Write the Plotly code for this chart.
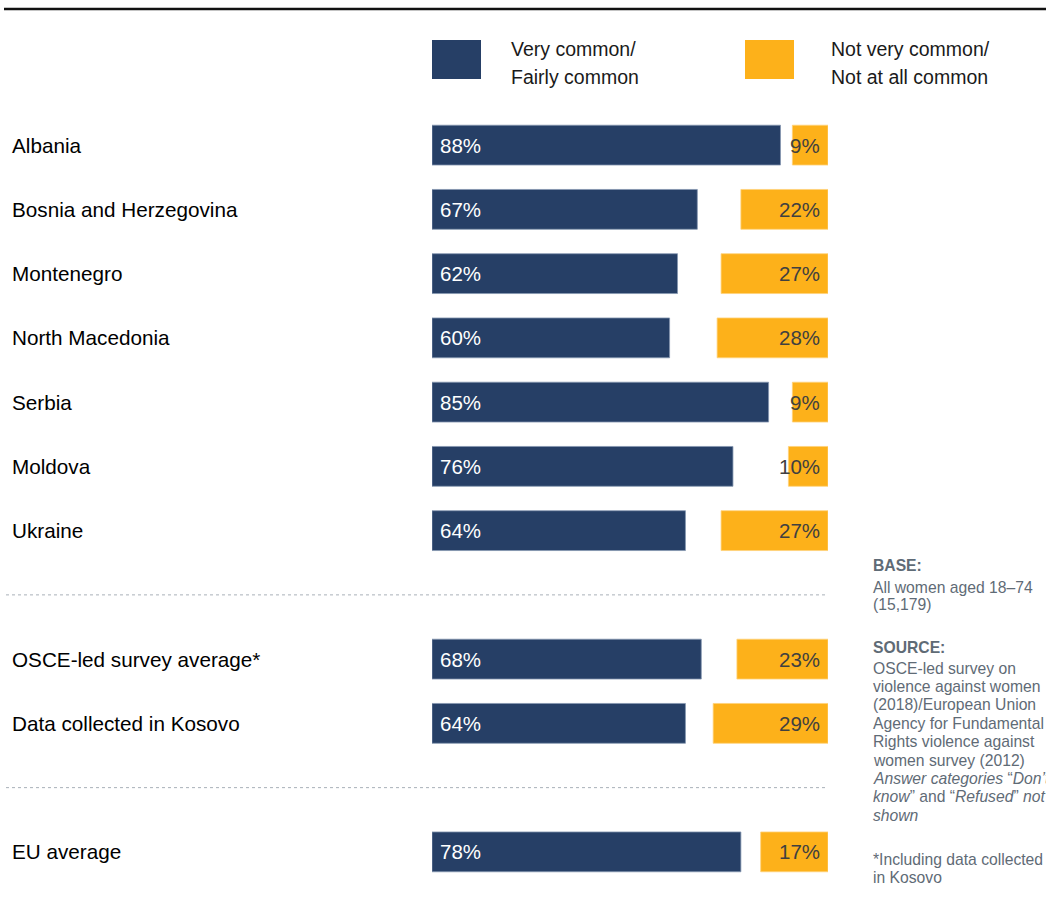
import plotly.graph_objects as go

# Survey results by country / group
categories = [
    "Albania", "Bosnia and Herzegovina", "Montenegro", "North Macedonia",
    "Serbia", "Moldova", "Ukraine",
    "OSCE-led survey average*", "Data collected in Kosovo",
    "EU average",
]
common = [88, 67, 62, 60, 85, 76, 64, 68, 64, 78]
not_common = [9, 22, 27, 28, 9, 10, 27, 23, 29, 17]

# Row slots (gaps hold the dotted separators)
row_slots = [0, 1, 2, 3, 4, 5, 6, 8, 9, 11]
separator_slots = [7, 10]

BLUE = "#263F66"
ORANGE = "#FDB11A"
FONT = "Liberation Sans, Arial, sans-serif"

W, H = 1046, 898
ML, MR, MT, MB = 432, 218, 113, 14

fig = go.Figure()

fig.add_trace(go.Bar(
    y=row_slots, x=common, orientation="h", width=0.62,
    marker=dict(color=BLUE, line=dict(color="#8495B0", width=0.8)),
    hoverinfo="skip", showlegend=False,
))
fig.add_trace(go.Bar(
    y=row_slots, x=not_common, base=[100 - v for v in not_common],
    orientation="h", width=0.62,
    marker=dict(color=ORANGE, line=dict(color="#FFD27A", width=0.8)),
    hoverinfo="skip", showlegend=False,
))


def paper_x(px):
    return (px - ML) / (W - ML - MR)


def paper_y(py):
    return (H - MB - py) / (H - MT - MB)


annotations = []
for cat, slot, a, b in zip(categories, row_slots, common, not_common):
    annotations.append(dict(
        x=paper_x(10), xref="paper", y=slot, yref="y", text=cat,
        xanchor="left", yanchor="middle", showarrow=False,
        font=dict(family=FONT, size=20.7, color="#000000"),
    ))
    annotations.append(dict(
        x=0, xref="x", y=slot, yref="y", text=f"{a}%", xshift=6,
        xanchor="left", yanchor="middle", showarrow=False,
        font=dict(family=FONT, size=20.5, color="#FFFFFF"),
    ))
    annotations.append(dict(
        x=100, xref="x", y=slot, yref="y", text=f"{b}%", xshift=-6,
        xanchor="right", yanchor="middle", showarrow=False,
        font=dict(family=FONT, size=20.5, color="#404040"),
    ))

# Legend drawn by hand
shapes = []
for x0, col in [(432, BLUE), (745, ORANGE)]:
    shapes.append(dict(type="rect", xref="paper", yref="paper",
                       x0=paper_x(x0), x1=paper_x(x0 + 49),
                       y0=paper_y(79), y1=paper_y(40),
                       fillcolor=col, line=dict(width=0)))

for x0, lines in [(509, ["Very common/", "Fairly common"]),
                  (829, ["Not very common/", "Not at all common"])]:
    for i, t in enumerate(lines):
        annotations.append(dict(
            x=paper_x(x0), xref="paper", y=paper_y(49 + 28 * i), yref="paper",
            text=t, xanchor="left", yanchor="middle", showarrow=False,
            font=dict(family=FONT, size=19.5, color="#1a1a1a"),
        ))

# Top rule
shapes.append(dict(type="line", xref="paper", yref="paper",
                   x0=paper_x(4), x1=paper_x(1046), y0=paper_y(9), y1=paper_y(9),
                   line=dict(color="#111111", width=2.5)))

# Dotted separators between groups
for s in separator_slots:
    shapes.append(dict(type="line", xref="paper", yref="y",
                       x0=paper_x(6), x1=paper_x(827), y0=s, y1=s,
                       line=dict(color="#A9B0B8", width=1, dash="dot")))

# Side notes
NOTE = "#5F6B76"


def note(py, text, bold=False):
    annotations.append(dict(
        x=paper_x(871), xref="paper", y=paper_y(py), yref="paper",
        text=f"<b>{text}</b>" if bold else text,
        xanchor="left", yanchor="middle", showarrow=False,
        font=dict(family=FONT, size=15.7, color=NOTE),
    ))


note(565, "BASE:", bold=True)
note(587, "All women aged 18–74")
note(604, "(15,179)")
note(647, "SOURCE:", bold=True)
source_lines = [
    "OSCE-led survey on",
    "violence against women",
    "(2018)/European Union",
    "Agency for Fundamental",
    "Rights violence against",
    "women survey (2012)",
    "<i>Answer categories</i> “<i>Don’t</i>",
    "<i>know</i>” and “<i>Refused</i>” <i>not</i>",
    "<i>shown</i>",
]
for i, t in enumerate(source_lines):
    note(668 + 18.4 * i, t)
note(859, "*Including data collected")
note(877, "in Kosovo")

fig.update_layout(
    width=W, height=H,
    margin=dict(l=ML, r=MR, t=MT, b=MB),
    paper_bgcolor="white", plot_bgcolor="white",
    barmode="overlay",
    xaxis=dict(range=[0, 100], visible=False, fixedrange=True),
    yaxis=dict(range=[11.5, -0.5], visible=False, fixedrange=True),
    annotations=annotations, shapes=shapes,
)

fig.write_html("out.html")
